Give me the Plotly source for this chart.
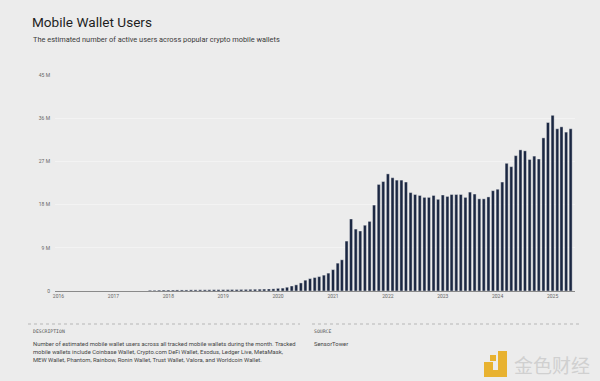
import pandas as pd
import plotly.graph_objects as go

# Monthly active mobile wallet users (millions), Sep 2017 .. May 2025
users_m = [
    0.15, 0.15, 0.18, 0.20,                                              # 2017 Sep-Dec
    0.20, 0.20, 0.22, 0.22, 0.22, 0.24, 0.24, 0.25, 0.25, 0.26, 0.27, 0.28,  # 2018
    0.28, 0.29, 0.30, 0.30, 0.32, 0.33, 0.35, 0.36, 0.38, 0.40, 0.42, 0.45,  # 2019
    0.55, 0.60, 0.78, 1.04, 1.28, 1.68, 2.25, 2.58, 2.80, 3.00, 3.30, 3.72,  # 2020
    4.45, 5.80, 6.50, 10.4, 15.0, 12.9, 12.5, 13.7, 14.5, 17.9, 22.2, 22.8,  # 2021
    24.4, 23.6, 23.1, 23.1, 22.7, 20.5, 20.1, 19.9, 19.5, 19.5, 19.9, 19.1,  # 2022
    20.0, 19.7, 20.1, 20.1, 20.1, 19.5, 20.6, 20.2, 19.2, 19.2, 19.6, 20.9,  # 2023
    21.2, 22.7, 26.6, 25.9, 28.2, 29.4, 29.2, 27.4, 28.1, 27.5, 31.9, 35.1,  # 2024
    36.6, 33.8, 34.2, 33.1, 33.8,                                        # 2025
]
first_month = "2017-09-01"
months = pd.date_range(first_month, periods=len(users_m), freq="MS")
users = [v * 1e6 for v in users_m]

year_ticks = [f"{y}-01-01" for y in range(2016, 2026)]
year_labels = [str(y) for y in range(2016, 2026)]
y_ticks = [0, 9e6, 18e6, 27e6, 36e6, 45e6]
y_labels = ["0", "9 M", "18 M", "27 M", "36 M", "45 M"]

title = "Mobile Wallet Users"
subtitle = "The estimated number of active users across popular crypto mobile wallets"
desc_lines = [
    "Number of estimated mobile wallet users across all tracked mobile wallets during the month. Tracked",
    "mobile wallets include Coinbase Wallet, Crypto.com DeFi Wallet, Exodus, Ledger Live, MetaMask,",
    "MEW Wallet, Phantom, Rainbow, Ronin Wallet, Trust Wallet, Valora, and Worldcoin Wallet.",
]
source = "SensorTower"

BG = "#ececec"

fig = go.Figure(go.Bar(
    x=months, y=users,
    marker=dict(color="#1b2742", line=dict(color="#f2f2f2", width=0.4)),
    hovertemplate="%{x|%b %Y}: %{y:,.0f}<extra></extra>",
))

fig.update_layout(
    width=600, height=381,
    paper_bgcolor=BG, plot_bgcolor=BG,
    margin=dict(l=55, r=25, t=75, b=90),
    bargap=0.28,
    showlegend=False,
    font=dict(family="Roboto, sans-serif", color="#555"),
    xaxis=dict(
        type="date",
        range=["2015-12-09", "2025-05-30"],
        tickvals=year_ticks, ticktext=year_labels,
        tickfont=dict(size=5, color="#666"),
        showgrid=False, zeroline=False,
        showline=True, linecolor="#8a8a8a", linewidth=1,
        ticks="", ticklen=0,
    ),
    yaxis=dict(
        range=[0, 45e6],
        tickvals=y_ticks, ticktext=y_labels,
        tickfont=dict(size=5, color="#666"),
        showgrid=True, gridcolor="#f3f3f3", gridwidth=1,
        zeroline=False, ticks="", ticklabelstandoff=4,
    ),
)


def px_x(px):
    return (px - 55) / 520.0


def px_y(py):
    return (291 - py) / 216.0


def add_text(text, x, y, size, color, family="Roboto, sans-serif", yanchor="middle"):
    fig.add_annotation(text=text, xref="paper", yref="paper", x=px_x(x), y=px_y(y),
                       xanchor="left", yanchor=yanchor, showarrow=False,
                       font=dict(size=size, color=color, family=family))


add_text(title, 30, 22.5, 13.6, "#1e1e1e")
add_text(subtitle, 31, 39.5, 7.4, "#3a3a3a")

# footer dotted separators
for x0, x1 in [(28, 300), (312, 580)]:
    fig.add_shape(type="line", xref="paper", yref="paper",
                  x0=px_x(x0), x1=px_x(x1), y0=px_y(324), y1=px_y(324),
                  line=dict(color="#aaaaaa", width=0.8, dash="dot"))

add_text("DESCRIPTION", 31, 331.5, 4.8, "#555", family="DejaVu Sans Mono, monospace")
add_text("SOURCE", 312, 331.5, 4.8, "#555", family="DejaVu Sans Mono, monospace")
for i, line in enumerate(desc_lines):
    add_text(line, 31, 344 + i * 8.2, 5.85, "#444")
add_text(source, 312, 344, 5.85, "#444")

# watermark (bottom right)
gold = "#e8b230"
for x0, x1, y0, y1 in [(484, 493, 377, 362), (493, 507, 377, 370),
                       (498, 507, 370, 351), (490, 496, 361, 355)]:
    fig.add_shape(type="rect", xref="paper", yref="paper",
                  x0=px_x(x0), x1=px_x(x1), y0=px_y(y0), y1=px_y(y1),
                  fillcolor=gold, line=dict(width=0))
add_text("金色财经", 512, 364, 19, "#d0d0d0", family="Noto Sans CJK SC")

fig.write_html("out.html", config={"displayModeBar": False},
               post_script="document.body.style.margin='0';")
